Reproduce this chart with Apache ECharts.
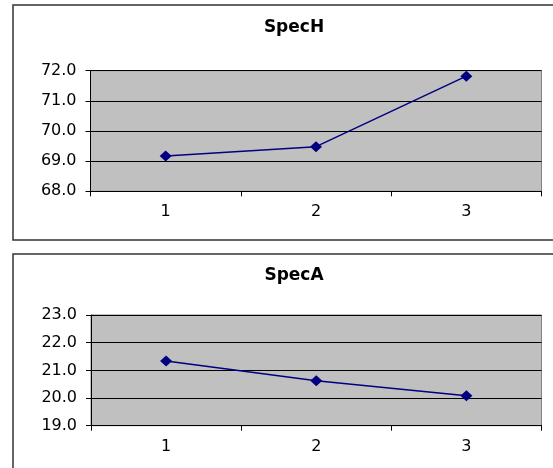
<!DOCTYPE html>
<html>
<head>
<meta charset="utf-8">
<script src="https://cdn.jsdelivr.net/npm/echarts@6/dist/echarts.min.js"></script>
<style>
html,body{margin:0;padding:0;background:#fff;}
#chart{width:553px;height:468px;}
</style>
</head>
<body>
<div id="chart"></div>
<script>
var categories = ['1', '2', '3'];
var specHValues = [69.17, 69.48, 71.82];
var specAValues = [21.34, 20.62, 20.08];
var specHTicks = {min: 68, max: 72, interval: 1};
var specATicks = {min: 19, max: 23, interval: 1};
var titles = ['SpecH', 'SpecA'];

var font = 'DejaVu Sans';
var chart = echarts.init(document.getElementById('chart'), null, {renderer: 'canvas'});

function xAxis(gi) {
  return {
    type: 'category', gridIndex: gi, data: categories, boundaryGap: true,
    axisLine: {show: true, lineStyle: {color: '#000', width: 1}},
    axisTick: {show: true, length: 5, inside: false, lineStyle: {color: '#000'}},
    axisLabel: {color: '#000', fontFamily: font, fontSize: 16, margin: 13},
    splitLine: {show: false}
  };
}
function yAxis(gi, t) {
  return {
    type: 'value', gridIndex: gi, min: t.min, max: t.max, interval: t.interval,
    axisLine: {show: true, lineStyle: {color: '#000', width: 1}},
    axisTick: {show: true, length: 5, lineStyle: {color: '#000'}},
    axisLabel: {color: '#000', fontFamily: font, fontSize: 16, margin: 14,
      formatter: function (v) { return v.toFixed(1); }},
    splitLine: {show: true, lineStyle: {color: '#000', width: 1}}
  };
}
function series(gi, data) {
  return {
    type: 'line', xAxisIndex: gi, yAxisIndex: gi, data: data,
    symbol: 'diamond', symbolSize: [12, 11], showSymbol: true,
    lineStyle: {color: '#000080', width: 1.5},
    itemStyle: {color: '#000080'},
    emphasis: {disabled: true}, animation: false
  };
}

chart.setOption({
  animation: false,
  title: [
    {text: titles[0], left: 289, top: 14, textAlign: 'center',
     textStyle: {fontFamily: font, fontWeight: 'bold', fontSize: 17, color: '#000'}},
    {text: titles[1], left: 289, top: 262, textAlign: 'center',
     textStyle: {fontFamily: font, fontWeight: 'bold', fontSize: 17, color: '#000'}}
  ],
  graphic: [
    {type: 'rect', shape: {x: 13, y: 5, width: 560, height: 235},
     style: {fill: null, stroke: '#333', lineWidth: 1.5}, silent: true},
    {type: 'rect', shape: {x: 13, y: 254, width: 560, height: 240},
     style: {fill: null, stroke: '#333', lineWidth: 1.5}, silent: true}
  ],
  grid: [
    {left: 90.5, top: 70.7, width: 451, height: 120.6, show: true,
     backgroundColor: '#C0C0C0', borderColor: '#808080', borderWidth: 1},
    {left: 91, top: 315, width: 450.5, height: 110.7, show: true,
     backgroundColor: '#C0C0C0', borderColor: '#808080', borderWidth: 1}
  ],
  xAxis: [xAxis(0), xAxis(1)],
  yAxis: [yAxis(0, specHTicks), yAxis(1, specATicks)],
  series: [series(0, specHValues), series(1, specAValues)]
});
</script>
</body>
</html>
